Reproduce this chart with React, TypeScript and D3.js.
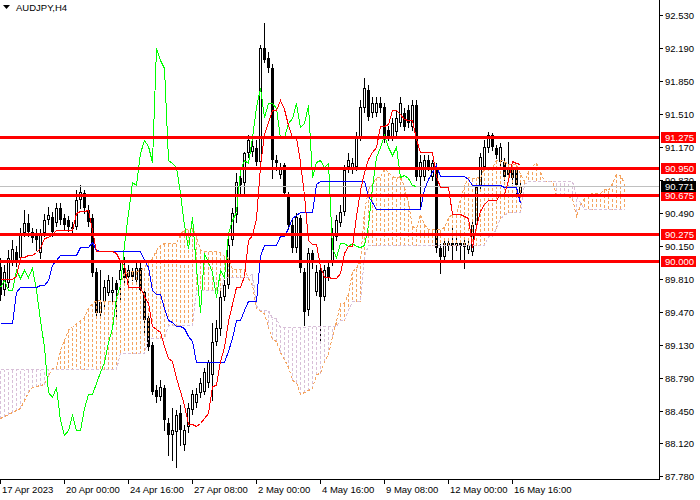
import React from 'react';
import * as d3 from 'd3';

// AUDJPY H4 candles, 17 Apr 2023 08:00 onward (one entry per bar)
const open = [
  89.93, 89.70, 89.77, 89.99, 90.09, 90.03, 90.28, 90.39, 90.29, 90.25,
  90.08, 90.28, 90.42, 90.45, 90.39, 90.54, 90.44, 90.42, 90.32, 90.35,
  90.62, 90.70, 90.52, 90.44, 89.88, 89.46, 89.57, 89.67, 89.67, 89.77,
  89.80, 89.92, 89.83, 89.88, 89.80, 89.92, 89.68, 89.41, 89.13, 88.67,
  88.59, 88.69, 88.33, 88.20, 88.23, 88.43, 88.10, 88.28, 88.46, 88.53,
  88.64, 88.65, 88.74, 88.82, 89.16, 89.29, 89.62, 89.75, 90.21, 90.47,
  90.85, 90.80, 91.11, 91.12, 91.16, 91.02, 92.19, 92.09, 91.98, 91.04,
  90.88, 90.98, 90.68, 90.37, 90.13, 90.44, 89.88, 89.49, 90.08, 89.68,
  89.90, 89.62, 89.93, 89.99, 90.24, 90.39, 90.50, 90.96, 90.93, 90.96,
  91.27, 91.57, 91.76, 91.52, 91.52, 91.62, 91.58, 91.35, 91.27, 91.32,
  91.42, 91.52, 91.55, 91.38, 91.60, 90.86, 90.86, 91.04, 90.86, 90.96,
  90.13, 90.04, 90.15, 90.18, 90.15, 90.18, 90.18, 90.11, 90.09, 90.37,
  90.76, 90.96, 91.16, 91.29, 91.16, 91.02, 91.02, 90.96, 90.95, 90.95,
  90.70,
];
const high = [
  90.03, 89.95, 90.11, 90.21, 90.15, 90.34, 90.52, 90.48, 90.34, 90.32,
  90.32, 90.48, 90.55, 90.50, 90.59, 90.59, 90.48, 90.46, 90.40, 90.73,
  90.78, 90.73, 90.57, 90.48, 89.92, 89.90, 89.80, 89.85, 89.83, 89.80,
  90.01, 90.04, 89.95, 89.92, 89.99, 89.99, 89.70, 89.44, 89.16, 88.72,
  88.77, 88.72, 88.38, 88.48, 88.46, 88.51, 88.31, 88.53, 88.67, 88.69,
  88.79, 88.89, 88.98, 89.36, 89.39, 89.70, 89.80, 90.26, 90.54, 90.90,
  90.88, 91.12, 91.29, 91.27, 91.24, 92.22, 92.45, 92.15, 92.02, 91.09,
  91.01, 91.01, 90.71, 90.42, 90.49, 90.47, 89.92, 90.13, 90.11, 89.95,
  89.95, 89.95, 89.99, 90.34, 90.47, 90.57, 90.98, 91.11, 91.06, 91.32,
  91.65, 91.88, 91.81, 91.69, 91.68, 91.68, 91.62, 91.39, 91.47, 91.55,
  91.68, 91.57, 91.60, 91.65, 91.65, 91.09, 91.09, 91.09, 91.04, 91.01,
  90.17, 90.21, 90.23, 90.37, 90.23, 90.21, 90.21, 90.21, 90.40, 90.80,
  91.11, 91.24, 91.32, 91.31, 91.19, 91.21, 91.06, 91.22, 90.98, 90.98,
  90.81,
];
const low = [
  89.59, 89.65, 89.73, 89.95, 89.94, 89.99, 90.25, 90.25, 90.19, 90.11,
  90.03, 90.25, 90.38, 90.25, 90.36, 90.38, 90.32, 90.30, 90.27, 90.33,
  90.54, 90.49, 90.36, 89.84, 89.42, 89.42, 89.53, 89.64, 89.56, 89.42,
  89.59, 89.78, 89.78, 89.80, 89.77, 89.67, 89.23, 89.08, 88.62, 88.54,
  88.56, 88.25, 88.00, 87.95, 87.87, 88.10, 88.05, 88.23, 88.42, 88.49,
  88.59, 88.62, 88.70, 88.56, 89.13, 89.23, 89.59, 89.72, 90.16, 90.40,
  90.68, 90.66, 91.07, 91.08, 90.98, 90.91, 92.05, 91.94, 90.85, 90.93,
  90.85, 90.68, 90.34, 90.09, 90.09, 89.88, 89.34, 89.44, 89.92, 89.65,
  89.18, 89.59, 89.80, 89.95, 90.21, 90.36, 90.47, 90.91, 90.90, 90.93,
  91.24, 91.53, 91.45, 91.48, 91.49, 91.53, 91.22, 91.24, 91.24, 91.29,
  91.39, 91.35, 91.38, 91.35, 90.83, 90.55, 90.83, 90.93, 90.83, 90.09,
  89.87, 90.01, 90.11, 89.99, 90.11, 90.01, 89.92, 90.08, 90.06, 90.34,
  90.73, 90.93, 91.12, 91.14, 91.06, 90.98, 90.83, 90.85, 90.80, 90.70,
  90.67,
];
const close = [
  89.65, 89.88, 90.03, 90.12, 90.01, 90.28, 90.39, 90.29, 90.23, 90.21,
  90.28, 90.42, 90.47, 90.29, 90.54, 90.42, 90.37, 90.35, 90.35, 90.62,
  90.71, 90.54, 90.40, 89.87, 89.46, 89.57, 89.73, 89.80, 89.70, 89.70,
  89.90, 89.82, 89.90, 89.83, 89.92, 89.70, 89.39, 89.11, 88.65, 88.59,
  88.70, 88.36, 88.20, 88.25, 88.41, 88.25, 88.25, 88.48, 88.62, 88.62,
  88.74, 88.85, 88.95, 89.16, 89.31, 89.62, 89.75, 90.16, 90.49, 90.81,
  90.78, 91.11, 91.24, 91.18, 91.02, 92.19, 92.07, 91.98, 91.04, 91.01,
  90.96, 90.70, 90.37, 90.13, 90.45, 89.92, 89.47, 90.08, 89.98, 89.88,
  89.62, 89.90, 89.83, 90.28, 90.42, 90.50, 90.93, 91.04, 91.01, 91.27,
  91.58, 91.78, 91.48, 91.62, 91.62, 91.57, 91.26, 91.27, 91.42, 91.47,
  91.62, 91.38, 91.42, 91.60, 90.86, 91.02, 91.04, 90.96, 91.01, 90.13,
  90.04, 90.18, 90.18, 90.15, 90.18, 90.15, 90.14, 90.16, 90.37, 90.76,
  91.07, 91.17, 91.29, 91.17, 91.09, 91.17, 90.86, 90.88, 90.85, 90.78,
  90.771,
];

const tenkanLead = [89.81, 89.81, 89.81, 89.81, 89.84, 90.04, 90.04, 90.06];
const kijunLead = [
  89.36, 89.36, 89.36, 89.36, 89.68, 89.73, 89.73, 89.73, 89.73, 89.73,
  89.75, 89.75, 89.80, 89.95, 90.01, 90.06, 90.06, 90.06, 90.06, 90.06,
  90.14, 90.14, 90.14, 90.19, 90.11,
];
const spanALead = [
  88.38, 88.40, 88.42, 88.44, 88.46, 88.48, 88.56, 88.65, 88.70, 88.71,
  88.72, 88.73, 88.82, 88.89, 88.89, 89.08, 89.18, 89.29, 89.32, 89.36,
  89.39, 89.42, 89.51, 89.56, 89.59, 89.59,
];
const spanBLead = [
  88.88, 88.88, 88.88, 88.88, 88.88, 88.88, 88.88, 88.88, 88.88, 88.88,
  88.88, 88.88, 88.88, 88.88, 88.88, 88.88, 88.88, 88.88, 88.88, 88.88,
  88.88, 88.88, 88.88, 88.88, 88.88, 88.88, 88.88, 88.88, 88.88, 88.88,
  89.05, 89.05, 89.05, 89.05, 89.05, 89.05, 89.05, 89.20, 89.20, 89.20,
  89.20, 89.20, 89.34, 89.34, 89.34, 89.34, 89.34, 89.34, 89.34, 89.70,
  89.70, 89.70, 89.70, 89.70, 89.70, 89.70, 89.83, 89.83, 89.83, 89.83,
  89.83, 89.83, 89.83, 89.87, 89.54, 89.49, 89.49, 89.49, 89.41, 89.41,
  89.32, 89.32, 89.32, 89.32, 89.32, 89.32, 89.32,
];

const priceTicks = [
  '92.530', '92.190', '91.850', '91.510', '91.170', '90.830', '90.490', '90.150',
  '89.810', '89.470', '89.130', '88.790', '88.450', '88.120', '87.780',
];
const timeTickBars = [0, 16, 32, 48, 64, 80, 96, 112, 128];
const timeTickLabels = [
  '17 Apr 2023', '20 Apr 00:00', '24 Apr 16:00', '27 Apr 08:00', '2 May 00:00',
  '4 May 16:00', '9 May 08:00', '12 May 00:00', '16 May 16:00',
];
const levels = [91.275, 90.95, 90.675, 90.275, 90.0];
const bid = 90.771;

const SANDY = '#F4A460';
const THISTLE = '#D8BFD8';
const FONT = 'Liberation Sans, Arial, sans-serif';
const PR = 659; // right edge of plot
const PB = 479; // bottom edge of plot

export default function App() {
  const x = d3.scaleLinear().domain([0, 130]).range([0, 520]);
  const y = d3.scaleLinear().domain([87.78, 92.53]).range([476, 15]);
  const px = (i: number) => Math.round(x(i)) + 0.5;
  const py = (v: number) => Math.round(y(v)) + 0.5;

  const n = close.length;
  const mid = (a: number, b: number) =>
    ((d3.max(high.slice(a, b + 1)) as number) + (d3.min(low.slice(a, b + 1)) as number)) / 2;
  const tenkan = close.map((_, i) => (i < tenkanLead.length ? tenkanLead[i] : mid(i - 8, i)));
  const kijun = close.map((_, i) => (i < kijunLead.length ? kijunLead[i] : mid(i - 25, i)));
  const chikou = close.slice(26);
  const spanA = d3.range(n + 26).map((j) =>
    j < spanALead.length ? spanALead[j] : (tenkan[j - 26] + kijun[j - 26]) / 2);
  const spanB = d3.range(n + 26).map((j) =>
    j < spanBLead.length ? spanBLead[j] : mid(j - 77, j - 26));

  const line = d3.line<number>().x((_, i) => px(i)).y((v) => py(v));

  return (
    <svg width={700} height={500} style={{ position: 'absolute', left: 0, top: 0, background: '#fff' }}>
      <defs>
        <clipPath id="plot">
          <rect x={0} y={0} width={PR} height={PB} />
        </clipPath>
      </defs>
      <rect width={700} height={500} fill="#fff" />

      <g clipPath="url(#plot)" shapeRendering="crispEdges">
        {/* candles */}
        {close.map((c, i) => {
          const o = open[i];
          const top = Math.round(y(Math.max(o, c)));
          const bot = Math.round(y(Math.min(o, c)));
          const cx = px(i);
          return (
            <g key={i}>
              <line x1={cx} x2={cx} y1={Math.round(y(high[i]))} y2={Math.round(y(low[i])) + 1} stroke="#000" />
              {bot - top < 2 ? (
                <line x1={cx - 1.5} x2={cx + 1.5} y1={top + 0.5} y2={top + 0.5} stroke="#000" />
              ) : c >= o ? (
                <rect x={cx - 1} y={top + 0.5} width={2} height={bot - top - 1} fill="#fff" stroke="#000" />
              ) : (
                <rect x={cx - 1.5} y={top} width={3} height={bot - top} fill="#000" />
              )}
            </g>
          );
        })}

        {/* cloud */}
        {spanA.map((a, j) => (
          <line key={j} x1={px(j)} x2={px(j)} y1={py(a)} y2={py(spanB[j])}
            stroke={a >= spanB[j] ? SANDY : THISTLE} strokeDasharray="3,2" />
        ))}
        <path d={line(spanA) || ''} fill="none" stroke={SANDY} strokeDasharray="3,2" />
        <path d={line(spanB) || ''} fill="none" stroke={THISTLE} strokeDasharray="3,2" />

        <line x1={0} x2={PR} y1={py(bid)} y2={py(bid)} stroke="#C0C0C0" />

        <path d={line(chikou) || ''} fill="none" stroke="#00FF00" />
        <path d={line(kijun) || ''} fill="none" stroke="#0000FF" />
        <path d={line(tenkan) || ''} fill="none" stroke="#FF0000" />

        {levels.map((v) => (
          <line key={v} x1={0} x2={PR} y1={py(v)} y2={py(v)} stroke="#FF0000" strokeWidth={3} />
        ))}
      </g>

      {/* axes */}
      <g shapeRendering="crispEdges" stroke="#000">
        <line x1={PR + 0.5} x2={PR + 0.5} y1={0} y2={PB + 1} />
        <line x1={0} x2={PR + 1} y1={PB + 0.5} y2={PB + 0.5} />
        {priceTicks.map((t) => (
          <line key={t} x1={PR} x2={PR + 4} y1={py(+t)} y2={py(+t)} />
        ))}
        {timeTickBars.map((b) => (
          <line key={b} x1={px(b)} x2={px(b)} y1={PB} y2={PB + 5} />
        ))}
      </g>
      <g fontFamily={FONT} fontSize={9.5} fill="#000">
        {priceTicks.map((t) => (
          <text key={t} x={PR + 6} y={Math.round(y(+t)) + 3.5}>{t}</text>
        ))}
        {timeTickBars.map((b, k) => (
          <text key={b} x={x(b) + 2} y={PB + 14}>{timeTickLabels[k]}</text>
        ))}
      </g>

      {/* level and bid price labels */}
      <g fontFamily={FONT} fontSize={9.5} shapeRendering="crispEdges">
        {levels.map((v) => (
          <g key={v}>
            <rect x={PR + 2} y={Math.round(y(v)) - 5} width={35} height={11} fill="#FF0000" />
            <text x={PR + 6} y={Math.round(y(v)) + 4} fill="#fff">{v.toFixed(3)}</text>
          </g>
        ))}
        <rect x={PR + 2} y={Math.round(y(bid)) - 5} width={35} height={11} fill="#000" />
        <text x={PR + 6} y={Math.round(y(bid)) + 4} fill="#fff">{bid.toFixed(3)}</text>
      </g>

      {/* title */}
      <path d="M3,5 L10,5 L6.5,9 Z" fill="#000" />
      <text x={16} y={11} fontFamily={FONT} fontSize={9.5} fill="#000">AUDJPY,H4</text>
    </svg>
  );
}
